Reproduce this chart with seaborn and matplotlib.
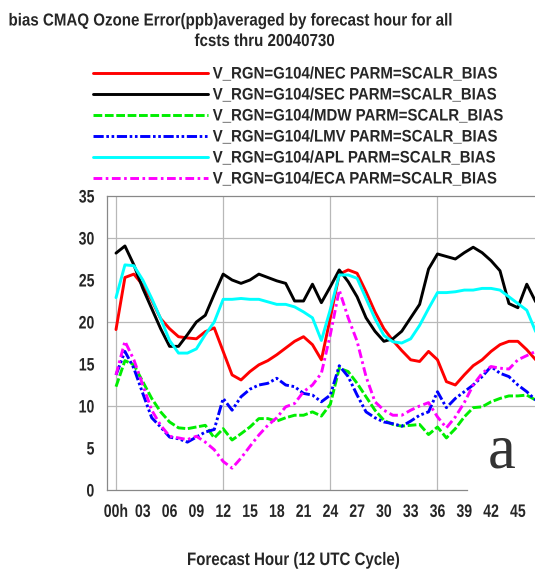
import numpy as np
import pandas as pd
import matplotlib
matplotlib.use("Agg")
import matplotlib.pyplot as plt
import seaborn as sns
from matplotlib.patheffects import AbstractPathEffect
from matplotlib.transforms import Affine2D
from matplotlib.path import Path

# forecast hours and bias values (ppb) per region
hours = list(range(48))
nec = [19.1, 25.3, 25.7, 24.4, 22.6, 20.4, 19.2, 18.25, 18.1, 18.0,
       18.85, 19.3, 16.5, 13.7, 13.1, 14.1, 14.9, 15.4, 16.1, 16.9,
       17.7, 18.25, 17.3, 15.5, 20.5, 25.7, 26.2, 25.8, 23.6, 21.2,
       19.2, 17.8, 16.6, 15.5, 15.3, 16.5, 15.5, 12.9, 12.5, 13.7,
       14.8, 15.5, 16.5, 17.3, 17.7, 17.7, 16.7, 15.5]
sec = [28.2, 29.05, 26.8, 24.0, 21.6, 19.2, 17.1, 17.1, 18.5, 20.0,
       20.8, 23.3, 25.7, 25.0, 24.6, 25.0, 25.7, 25.3, 24.9, 24.6,
       22.5, 22.5, 24.5, 22.3, 24.2, 26.2, 24.8, 23.0, 20.5, 18.9,
       17.7, 18.0, 18.9, 20.5, 22.1, 26.3, 28.1, 27.8, 27.5, 28.25,
       28.9, 28.25, 27.3, 26.1, 22.2, 21.7, 24.5, 22.4]
mdw = [12.3, 15.4, 14.9, 12.9, 10.9, 9.3, 8.1, 7.4, 7.3, 7.5,
       7.7, 6.2, 7.3, 5.95, 6.7, 7.5, 8.5, 8.5, 8.2, 8.6,
       8.9, 8.9, 9.3, 8.8, 10.2, 14.5, 14.1, 12.7, 11.1, 9.5,
       8.3, 7.8, 7.6, 7.7, 7.8, 6.6, 7.5, 6.2, 7.3, 8.7,
       9.8, 9.9, 10.5, 10.9, 11.2, 11.2, 11.3, 10.7]
lmv = [13.7, 16.5, 14.5, 11.5, 8.6, 7.5, 6.3, 6.1, 5.7, 6.3,
       6.9, 7.2, 10.9, 9.5, 11.1, 12.0, 12.5, 12.7, 13.3, 12.5,
       12.3, 11.5, 11.3, 10.5, 11.3, 14.8, 13.5, 11.3, 9.3, 8.6,
       8.1, 7.9, 7.6, 8.2, 8.9, 9.3, 11.7, 9.8, 10.9, 11.7,
       12.5, 13.5, 14.7, 13.9, 13.5, 12.5, 11.7, 10.7]
apl = [22.9, 26.8, 26.7, 25.0, 22.8, 20.4, 17.8, 16.3, 16.3, 16.8,
       18.5, 20.0, 22.7, 22.7, 22.8, 22.7, 22.7, 22.4, 22.1, 22.1,
       21.8, 21.2, 20.5, 17.8, 21.5, 25.6, 25.6, 25.2, 22.8, 20.4,
       18.4, 17.65, 17.5, 18.0, 19.6, 21.6, 23.5, 23.5, 23.6, 23.8,
       23.8, 24.0, 24.0, 23.8, 23.0, 22.2, 21.4, 18.85]
eca = [13.7, 17.7, 15.5, 12.5, 9.5, 7.7, 6.4, 6.2, 6.0, 6.4,
       5.7, 4.8, 3.4, 2.6, 3.8, 5.2, 6.55, 7.7, 8.6, 9.9,
       10.3, 11.7, 12.5, 13.9, 18.5, 23.8, 20.5, 17.7, 13.5, 10.5,
       9.5, 8.9, 8.9, 9.5, 10.0, 10.4, 8.7, 7.4, 8.7, 10.4,
       12.5, 13.9, 14.7, 14.5, 14.4, 15.5, 16.0, 16.5]

regions = ["NEC", "SEC", "MDW", "LMV", "APL", "ECA"]
series = [nec, sec, mdw, lmv, apl, eca]
colors = ["#ff0000", "#000000", "#00ee00", "#0000ff", "#00ffff", "#ff00ff"]
styles = ["-", "-", (0, (3.0, 0.9)), (0, (3.5, 0.9, 0.9, 0.9, 0.9, 0.9)),
          "-", (0, (3.0, 1.2, 0.9, 1.2))]

xtick_vals = list(range(0, 46, 3))
xtick_labels = ["00h"] + ["%02d" % h for h in xtick_vals[1:]]
grid_hours = [0, 12, 24, 36]
grid_vals = [10, 20, 30]


class Narrow(AbstractPathEffect):
    """squeeze text horizontally (no narrow font installed)"""
    def __init__(self, sx=0.87, anchor="left"):
        super().__init__()
        self.sx = sx
        self.anchor = anchor

    def draw_path(self, renderer, gc, tpath, affine, rgbFace=None):
        v = tpath.vertices
        if tpath.codes is not None:
            v = v[tpath.codes != Path.CLOSEPOLY]
        if self.anchor == "center" and len(v):
            cx = (v[:, 0].min() + v[:, 0].max()) / 2
        elif self.anchor == "right" and len(v):
            cx = v[:, 0].max()
        else:
            cx = 0
        t = Affine2D().translate(-cx, 0).scale(self.sx, 1).translate(cx, 0)
        renderer.draw_path(gc, tpath, t + affine, rgbFace)


sns.set_style("white")
plt.rcParams['font.family'] = ['Liberation Sans', 'DejaVu Sans']
plt.rcParams['font.weight'] = 'bold'

W, H = 535, 571
fig = plt.figure(figsize=(W / 100, H / 100), dpi=100)

# axes pixel geometry (h=0 at x=116, 8.93 px per hour; 0 ppb at y=490, 8.4 px per ppb)
px_hr, x0 = 8.93, 116
ax_left, ax_right = 107, 560
ax = fig.add_axes([ax_left / W, (H - 490) / H, (ax_right - ax_left) / W, 294 / H])
ax.set_xlim((ax_left - x0) / px_hr, (ax_right - x0) / px_hr)
ax.set_ylim(0, 35)

ax.vlines(grid_hours, 0, 35, color="#b8b8b8", lw=0.9, zorder=0)
ax.hlines(grid_vals, ax.get_xlim()[0], ax.get_xlim()[1], color="#b8b8b8", lw=0.9, zorder=0)

for reg, vals, c, ls in zip(regions, series, colors, styles):
    df = pd.DataFrame({"hour": hours, "bias": vals})
    sns.lineplot(data=df, x="hour", y="bias", ax=ax, color=c, linestyle=ls,
                 lw=2.1, label="V_RGN=G104/%s PARM=SCALR_BIAS" % reg)

handles, labels = ax.get_legend_handles_labels()
ax.get_legend().remove()
leg = fig.legend(handles, labels, loc="upper left", bbox_to_anchor=(92.7 / W, 1 - 66.5 / H),
                 frameon=False, fontsize=12, handlelength=6.9, handletextpad=0.3,
                 labelspacing=0.36, borderpad=0, borderaxespad=0)
for t in leg.get_texts():
    t.set_path_effects([Narrow(0.9)])

ax.spines["right"].set_visible(False)
for s in ["left", "bottom", "top"]:
    ax.spines[s].set_color("#888888")
    ax.spines[s].set_linewidth(0.9)
ax.spines["bottom"].set_bounds(ax.get_xlim()[0], 39.3)

ax.set_xticks(xtick_vals)
ax.set_xticklabels(xtick_labels, fontsize=13, fontweight="bold")
ax.set_yticks(range(0, 36, 5))
ax.set_yticklabels([str(v) for v in range(0, 36, 5)], fontsize=13, fontweight="bold")
ax.tick_params(axis="x", direction="inout", length=6, color="#888888", pad=7)
ax.tick_params(axis="y", direction="out", length=4, color="#888888", pad=5)
for t, v in zip(ax.xaxis.get_major_ticks(), xtick_vals):
    if v > 39:
        t.tick1line.set_visible(False)
for t in ax.get_xticklabels():
    t.set_path_effects([Narrow(0.78, "center")])
for t in ax.get_yticklabels():
    t.set_path_effects([Narrow(0.78, "right")])
ax.set_xlabel("")
ax.set_ylabel("")

fig.text(8.5 / W, 1 - 25.5 / H, "bias CMAQ Ozone Error(ppb)averaged by forecast hour for all",
         fontsize=12.5, fontweight="bold", ha="left", va="baseline", path_effects=[Narrow(0.87)])
fig.text(194.5 / W, 1 - 46 / H, "fcsts thru 20040730",
         fontsize=12.5, fontweight="bold", ha="left", va="baseline", path_effects=[Narrow(0.87)])
fig.text(187 / W, 1 - 565 / H, "Forecast Hour (12 UTC Cycle)",
         fontsize=13, fontweight="bold", ha="left", va="baseline", path_effects=[Narrow(0.835)])
fig.text(488 / W, 1 - 468 / H, "a", fontsize=45, color="#333333",
         family=["Liberation Serif", "DejaVu Serif"], fontweight="normal", va="baseline")

fig.savefig("out.png", dpi=100)
